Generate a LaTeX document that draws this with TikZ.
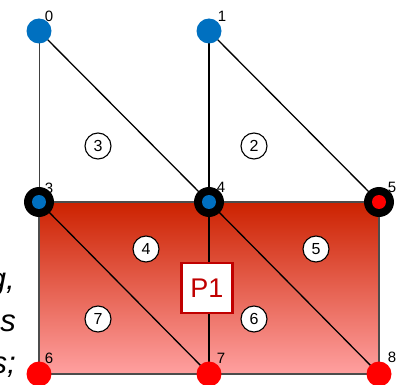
\documentclass[tikz,border=0pt]{standalone}
\usepackage{fontspec}
\setmainfont{Liberation Sans}
\definecolor{vblue}{HTML}{0070C0}
\definecolor{vred}{HTML}{FF0000}
\definecolor{ptop}{HTML}{CC2200}
\definecolor{pbot}{HTML}{FFA0A0}
\definecolor{pred}{HTML}{C00000}
\begin{document}
\begin{tikzpicture}[x=1pt,y=-1pt,
  edge/.style={line width=1.3pt, black},
  thinedge/.style={line width=0.8pt, black!75},
  tri/.style={circle, draw=black, line width=1.1pt, fill=white, minimum size=26pt, inner sep=0pt, font=\fontsize{16}{16}\selectfont},
  bluev/.style={circle, fill=vblue, minimum size=25pt, inner sep=0pt},
  redv/.style={circle, fill=vred, minimum size=25pt, inner sep=0pt},
  ringv/.style={circle, fill=black, minimum size=30pt, inner sep=0pt},
  dotv/.style={circle, fill=#1, minimum size=14pt, inner sep=0pt},
  lbl/.style={font=\fontsize{15}{15}\selectfont, inner sep=0pt},
  sidetxt/.style={font=\fontsize{31}{31}\selectfont\itshape, inner sep=0pt, anchor=base east}]
\useasboundingbox (0,0) rectangle (400,385);
\coordinate (v0) at (39,31);
\coordinate (v1) at (209,31);
\coordinate (v3) at (39,202);
\coordinate (v4) at (209,202);
\coordinate (v5) at (379,202);
\coordinate (v6) at (39,374);
\coordinate (v7) at (209,374);
\coordinate (v8) at (379,374);
% side text
\node[sidetxt] (t1) at (15,290) {g,};
\node[sidetxt] (t2) at (16,332) {s};
\node[sidetxt] (t3) at (16,374) {s;};
% shaded rectangle
\path[top color=ptop, bottom color=pbot, draw=black!70, line width=1.2pt] (v3) rectangle (v8);
% edges
\draw[thinedge] (v0) -- (v3);
\draw[edge] (v0) -- (v4);
\draw[edge] (v1) -- (v4);
\draw[edge] (v1) -- (v5);
\draw[edge] (v4) -- (v7);
\draw[edge] (v3) -- (v7);
\draw[edge] (v4) -- (v8);
% element numbers
\node[tri] (e3) at (98,146) {3};
\node[tri] (e2) at (254,146) {2};
\node[tri] (e4) at (146,249) {4};
\node[tri] (e5) at (316,249) {5};
\node[tri] (e7) at (98,319) {7};
\node[tri] (e6) at (254,319) {6};
% P1 box
\node[draw=pred, line width=2.5pt, fill=white, minimum width=51pt, minimum height=50pt, inner sep=0pt, text=pred, font=\fontsize{27}{27}\selectfont] (p1) at (207,288) {P1};
% vertices
\node[bluev] (n0) at (v0) {};
\node[bluev] (n1) at (v1) {};
\node[ringv] (n3) at (v3) {};
\node[dotv=vblue] (n3i) at (v3) {};
\node[ringv] (n4) at (v4) {};
\node[dotv=vblue] (n4i) at (v4) {};
\node[ringv] (n5) at (v5) {};
\node[dotv=vred] (n5i) at (v5) {};
\node[redv] (n6) at (v6) {};
\node[redv] (n7) at (v7) {};
\node[redv] (n8) at (v8) {};
% labels
\node[lbl] (l0) at (49,16) {0};
\node[lbl] (l1) at (222,16) {1};
\node[lbl] (l3) at (49,188) {3};
\node[lbl] (l4) at (221,187) {4};
\node[lbl] (l5) at (392,187) {5};
\node[lbl] (l6) at (49,358) {6};
\node[lbl] (l7) at (221,358) {7};
\node[lbl] (l8) at (392,357) {8};
\end{tikzpicture}
\end{document}
